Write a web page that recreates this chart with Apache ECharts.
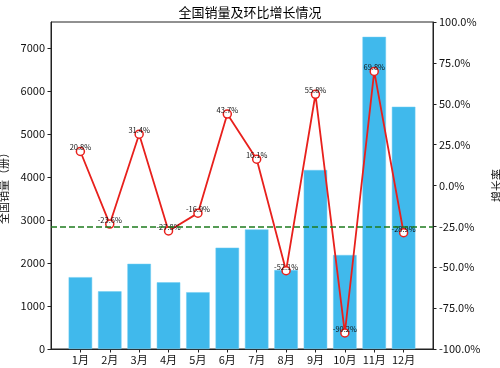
<!DOCTYPE html>
<html><head><meta charset="utf-8">
<script src="https://cdn.jsdelivr.net/npm/echarts@6/dist/echarts.min.js"></script>
<style>html,body{margin:0;padding:0;background:#fff}#c{width:500px;height:368px}</style>
</head><body><div id="c"></div>
<script>
const months = ['1月','2月','3月','4月','5月','6月','7月','8月','9月','10月','11月','12月'];
const sales = [1670, 1340, 1980, 1550, 1320, 2355, 2780, 1835, 4160, 2185, 7255, 5630];
const growth = [20.8, -23.6, 31.4, -27.8, -16.9, 43.7, 16.1, -52.1, 55.8, -90.2, 69.8, -28.9];
const refLine = -25;
const leftTicks = {min: 0, max: 7600, interval: 1000};
const rightTicks = {min: -100, max: 100, interval: 25};

const FONT = '"Noto Sans CJK SC", sans-serif';
const cats = [''].concat(months, ['']);
const barData = sales.map((v, i) => [i, v]);
const lineData = growth.map((v, i) => [i, v]);

const chart = echarts.init(document.getElementById('c'), null, {renderer: 'canvas'});
chart.setOption({
  animation: false,
  textStyle: {fontFamily: FONT},
  title: {text: '全国销量及环比增长情况', left: 'center', top: 1,
    textStyle: {fontSize: 13, fontWeight: 'normal', color: '#000', fontFamily: FONT}},
  grid: {left: 51, right: 67, top: 22, bottom: 19, show: true, borderColor: '#222', borderWidth: 1,
    backgroundColor: 'transparent', containLabel: false, outerBoundsMode: 'none'},
  xAxis: [{
    type: 'value', min: -1, max: 12, interval: 1,
    axisLine: {show: false, onZero: false}, axisTick: {show: false}, axisLabel: {show: false}, splitLine: {show: false}
  }, {
    type: 'category', data: cats, boundaryGap: false, position: 'bottom',
    axisLine: {onZero: false, lineStyle: {color: '#222', width: 1}},
    axisTick: {length: 3.5, lineStyle: {color: '#222'}, interval: (i) => i > 0 && i < cats.length - 1},
    axisLabel: {interval: 0, fontSize: 11, color: '#111', margin: 5, fontFamily: FONT},
    splitLine: {show: false}
  }],
  yAxis: [{
    type: 'value', min: leftTicks.min, max: leftTicks.max, interval: leftTicks.interval,
    position: 'left',
    name: '全国销量（册）', nameLocation: 'middle', nameRotate: 90, nameGap: 37,
    nameTextStyle: {fontSize: 11, color: '#111', fontFamily: FONT},
    axisLine: {show: true, onZero: false, lineStyle: {color: '#222'}},
    axisTick: {show: true, length: 3.5, lineStyle: {color: '#222'}},
    axisLabel: {fontSize: 11, color: '#111', margin: 6, showMaxLabel: false, formatter: (v) => String(v)},
    splitLine: {show: false}
  }, {
    type: 'value', min: rightTicks.min, max: rightTicks.max, interval: rightTicks.interval,
    name: '增长率', nameLocation: 'middle', nameRotate: 90, nameGap: 50,
    nameTextStyle: {fontSize: 11, color: '#111', fontFamily: FONT},
    position: 'right',
    axisLine: {show: true, onZero: false, lineStyle: {color: '#222'}},
    axisTick: {show: true, length: 3.5, lineStyle: {color: '#222'}},
    axisLabel: {fontSize: 11, color: '#111', margin: 6, formatter: (v) => v.toFixed(1) + '%'},
    splitLine: {show: false}
  }],
  series: [{
    type: 'bar', data: barData, xAxisIndex: 0, yAxisIndex: 0, barWidth: 23.5,
    itemStyle: {color: '#40b9ec', borderColor: '#6fcdf2', borderWidth: 0.5},
    z: 1
  }, {
    type: 'line', data: lineData, xAxisIndex: 0, yAxisIndex: 1,
    lineStyle: {color: '#e8201c', width: 1.8},
    symbol: 'circle', symbolSize: 8,
    itemStyle: {color: '#fff', borderColor: '#e8201c', borderWidth: 1.5},
    label: {show: true, position: 'inside', offset: [0, -4], fontSize: 7.5, color: '#111',
      formatter: (p) => p.value[1].toFixed(1) + '%'},
    markLine: {
      silent: true, symbol: ['none', 'none'], label: {show: false},
      lineStyle: {color: '#1e7b1e', type: [6, 3], width: 1.5},
      data: [{yAxis: refLine}]
    },
    z: 3
  }]
});
</script></body></html>
